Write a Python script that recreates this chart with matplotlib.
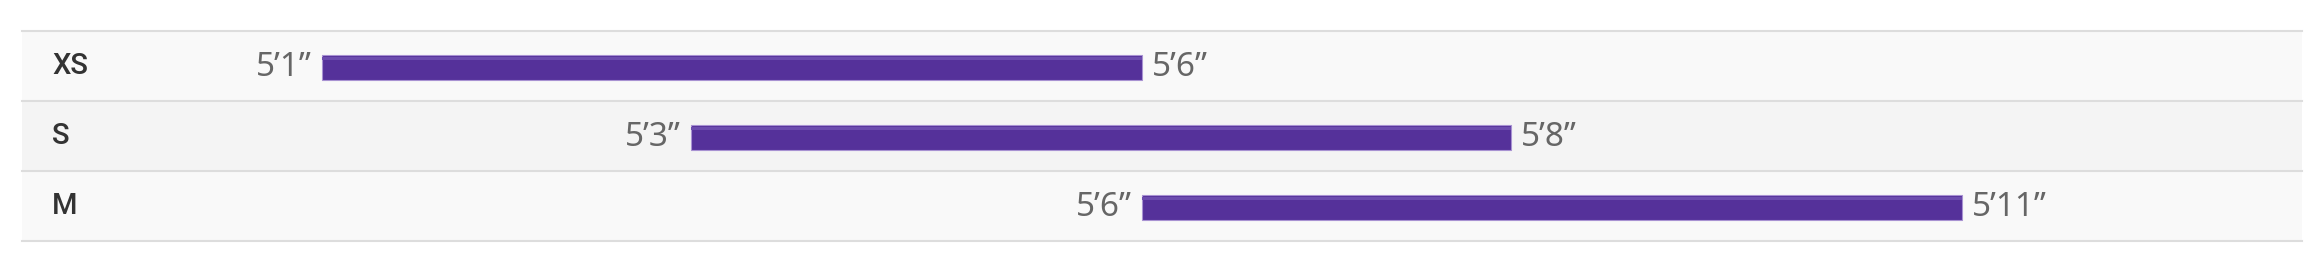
import matplotlib.pyplot as plt
from matplotlib.transforms import blended_transform_factory

plt.rcParams['font.family'] = ['Noto Sans', 'DejaVu Sans']

# size rows and height ranges (inches, as placed in the picture)
sizes = ["XS", "S", "M"]
low = [61, 63.25, 66]
high = [66, 68.25, 71]
low_labels = ["5\u20191\u201d", "5\u20193\u201d", "5\u20196\u201d"]
high_labels = ["5\u20196\u201d", "5\u20198\u201d", "5\u201911\u201d"]

W, H = 2320, 268
fig = plt.figure(figsize=(W / 100, H / 100), dpi=100)
ax = fig.add_axes([0, 0, 1, 1])
ax.set_xlim(61 - 322 / 164, 61 + (W - 322) / 164)
ax.set_ylim((H - 66) / 70, -66 / 70)
ax.axis("off")

left, right = 22 / W, 2302 / W
row_colors = ["#f9f9f9", "#f4f4f4", "#f9f9f9"]
for i, c in enumerate(row_colors):
    ax.axhspan(i - 0.5, i + 0.5, xmin=left, xmax=right, color=c, lw=0, zorder=0)
for i in range(len(sizes) + 1):
    ax.axhline(i - 0.5, xmin=left, xmax=right, color="#dddddd", lw=1.5, zorder=1)

ypos = [i + 0.02 for i in range(len(sizes))]
widths = [h - l for l, h in zip(low, high)]
ax.barh(ypos, widths, left=low, height=0.36, color="#55319a",
        edgecolor="#a892d2", lw=0.8, zorder=2)
# lighter stripe along the top of each bar
ax.barh([y - 0.13 for y in ypos], widths, left=low, height=0.04,
        color="#6c4cae", lw=0, zorder=3)

trans = blended_transform_factory(ax.transAxes, ax.transData)
for i, s in enumerate(sizes):
    ax.text(52 / W, i, s, transform=trans, ha="left", va="center",
            fontsize=21, fontweight="medium", family=["Roboto", "DejaVu Sans"],
            color="#333333")
    ax.text(low[i] - 0.06, ypos[i], low_labels[i], ha="right", va="center",
            fontsize=24, color="#666666")
    ax.text(high[i] + 0.06, ypos[i], high_labels[i], ha="left", va="center",
            fontsize=24, color="#666666")

fig.savefig("out.png", dpi=100, facecolor="white")
